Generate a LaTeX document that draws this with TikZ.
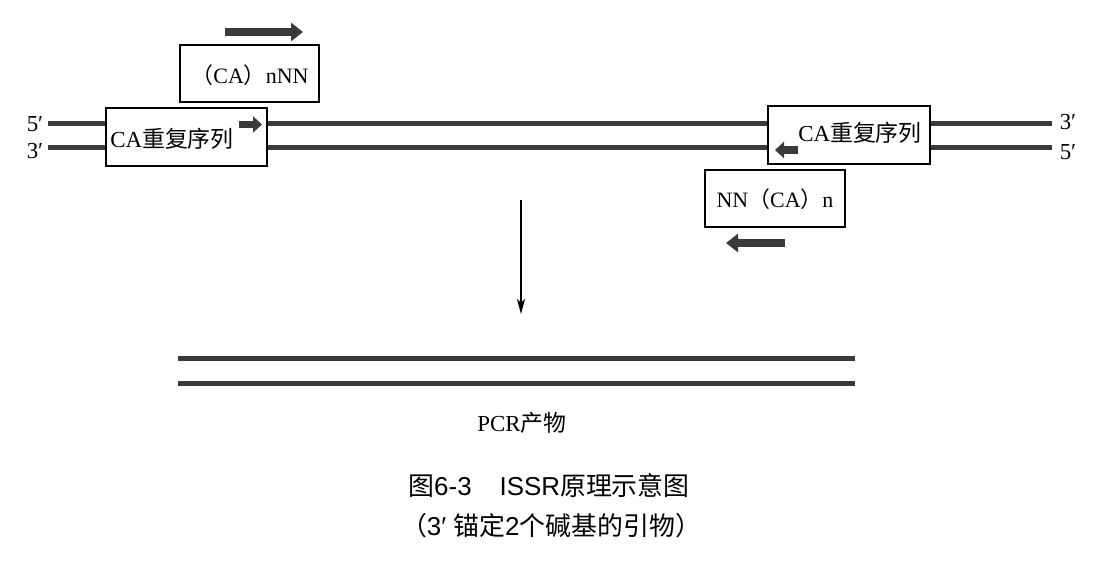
\documentclass[tikz,border=0pt]{standalone}
\usepackage{fontspec}
\setmainfont{Liberation Serif}
\setsansfont{Liberation Sans}
\newfontfamily\cjk{Noto Sans CJK SC}
\usetikzlibrary{arrows.meta}
\definecolor{dna}{HTML}{3A3A3A}

\begin{document}
\begin{tikzpicture}
[x=1bp,y=-1bp,%
  strand/.style={line width=4.8bp,draw=dna},
  repeatbox/.style={shape=rectangle,draw,line width=1.3bp,fill=white,
    minimum width=161bp,minimum height=58bp,inner sep=0pt},
  primerbox/.style={repeatbox,minimum width=140bp,minimum height=57bp},
  primer/.style={line width=8bp,draw=dna,-{Triangle[length=12bp,width=18bp]}},
  extend/.style={line width=7.5bp,draw=dna,-{Triangle[length=9bp,width=16bp]}},
  every node/.style={font=\fontsize{23}{26}\selectfont}]
\useasboundingbox (0,0) rectangle (1109,564);
\fill[white] (0,0) rectangle (1109,564);
\node (l5) at (35,124) {5′};
\node (l3) at (35,151) {3′};
\node (r3) at (1068,122) {3′};
\node (r5) at (1068,152) {5′};
\coordinate (ta) at (48,123.5);
\coordinate (tb) at (1052,123.5);
\coordinate (ba) at (48,147.5);
\coordinate (bb) at (1052,147.5);
\draw[strand] (ta) -- (tb);
\draw[strand] (ba) -- (bb);
\node[repeatbox] (lbox) at (186.5,137) {};
\node[repeatbox,minimum width=162bp] (rbox) at (849,135) {};
\node[primerbox,minimum width=139bp] (lpbox) at (249.5,73.5) {};
\node[primerbox] (rpbox) at (775,198.5) {};
\node (lrep) at (172,139) {CA{\cjk 重复序列}};
\node (rrep) at (860,133) {CA{\cjk 重复序列}};
\node[font=\fontsize{22}{25}\selectfont] (lprim) at (250,75) {{\cjk （}CA{\cjk ）}nNN};
\node[font=\fontsize{22}{25}\selectfont] (rprim) at (775,199) {NN{\cjk （}CA{\cjk ）}n};
\coordinate (fa) at (225,32);
\coordinate (fb) at (303,32);
\coordinate (ia) at (239,124.5);
\coordinate (ib) at (262,124.5);
\coordinate (ja) at (798,150);
\coordinate (jb) at (775,150);
\coordinate (ra) at (785,243);
\coordinate (rb) at (726,243);
\draw[primer] (fa) -- (fb);
\draw[extend] (ia) -- (ib);
\draw[extend] (ja) -- (jb);
\draw[primer] (ra) -- (rb);
\coordinate (ds) at (521,200);
\coordinate (de) at (521,314);
\draw[line width=1.3bp,-{Stealth[length=15bp,width=8bp,inset=4bp]}] (ds) -- (de);
\coordinate (pa) at (178,358.5);
\coordinate (pb) at (855,358.5);
\coordinate (qa) at (178,383.5);
\coordinate (qb) at (855,383.5);
\draw[strand] (pa) -- (pb);
\draw[strand] (qa) -- (qb);
\node (pcr) at (522,423) {PCR{\cjk 产物}};
\node[font=\sffamily\fontsize{26}{29}\selectfont] (cap) at (549,486)
  {{\cjk 图}6-3\hspace{28bp}ISSR{\cjk 原理示意图}};
\node[font=\sffamily\fontsize{26}{29}\selectfont] (sub) at (551,526)
  {{\cjk （}3′ {\cjk 锚定}2{\cjk 个碱基的引物）}};
\end{tikzpicture}
\end{document}
